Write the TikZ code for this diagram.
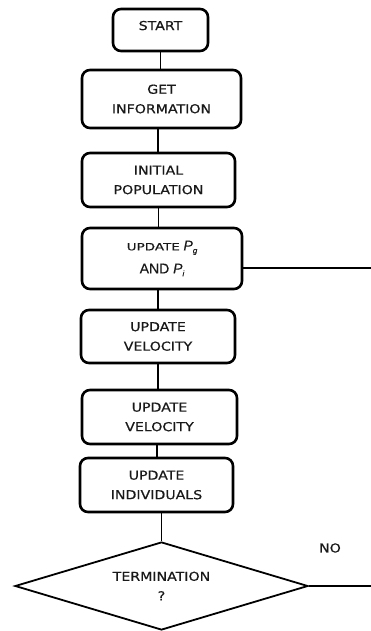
\documentclass[tikz,border=0pt]{standalone}
\usepackage{fontspec}
\usetikzlibrary{shapes.geometric}
\newfontfamily\boxfont[FakeStretch=1.15,FakeBold=0.6]{DejaVu Sans}
\newfontfamily\andfont[FakeBold=0.4]{Liberation Sans}
\begin{document}
\begin{tikzpicture}[x=1pt,y=-1pt,
  box/.style={draw, rounded corners=8pt, line width=2.6pt, inner sep=0pt, align=center,
    text=black!90, font=\boxfont\fontsize{12.3}{19.5}\selectfont},
  conn/.style={line width=1.6pt},
  side/.style={line width=1.1pt}]
\useasboundingbox (0,0) rectangle (371,631);

\node[box, minimum width=95pt, minimum height=42pt, text depth=9pt] (start) at (160.5,30) {START};
\node[box, minimum width=159pt, minimum height=58pt] (info) at (161.5,99) {GET\\INFORMATION};
\node[box, minimum width=153pt, minimum height=54pt] (init) at (158.5,180) {INITIAL\\POPULATION};
\node[box, minimum width=160pt, minimum height=61pt, font=\boxfont\fontsize{10}{23}\selectfont] (upd) at (162,258.5)
  {{\addfontfeature{FakeStretch=1.35}UPDATE} {\andfont\fontsize{14}{16}\selectfont\itshape P\raisebox{-0.4ex}{\fontsize{8}{9}\selectfont g}}\\
   {\andfont\fontsize{14}{16}\selectfont AND {\itshape P\raisebox{-0.4ex}{\fontsize{8}{9}\selectfont i}}}};
\node[box, minimum width=154pt, minimum height=53pt] (vel1) at (158,336.5) {UPDATE\\VELOCITY};
\node[box, minimum width=155pt, minimum height=54pt] (vel2) at (159.5,417) {UPDATE\\VELOCITY};
\node[box, minimum width=153pt, minimum height=54pt] (ind) at (156.5,485) {UPDATE\\INDIVIDUALS};
\node[draw, diamond, shape aspect=3.3, minimum width=293pt, minimum height=88pt, inner sep=0pt,
  line width=1.8pt, align=center, text=black!90, font=\boxfont\fontsize{12.3}{19.5}\selectfont] (term) at (161.5,586) {TERMINATION\\?};
\node[text=black!90, font=\boxfont\fontsize{12.3}{14}\selectfont] (no) at (330,548) {NO};

\draw[conn] (start.south) -- (start.south |- info.north);
\draw[conn] (init.north -| 158,0) -- (info.south -| 158,0);
\draw[conn] (init.south) -- (init.south |- upd.north);
\draw[conn] (vel1.north) -- (vel1.north |- upd.south);
\draw[conn] (vel1.south) -- (vel1.south |- vel2.north);
\draw[conn] (ind.north -| 157,0) -- (vel2.south -| 157,0);
\draw[conn] (ind.south -| term.north) -- (term.north);

\coordinate (e1) at (371,268);
\coordinate (e2) at (371,586);
\draw[side] (upd.east |- e1) -- (e1);
\draw[side] (term.east) -- (e2);
\end{tikzpicture}
\end{document}
